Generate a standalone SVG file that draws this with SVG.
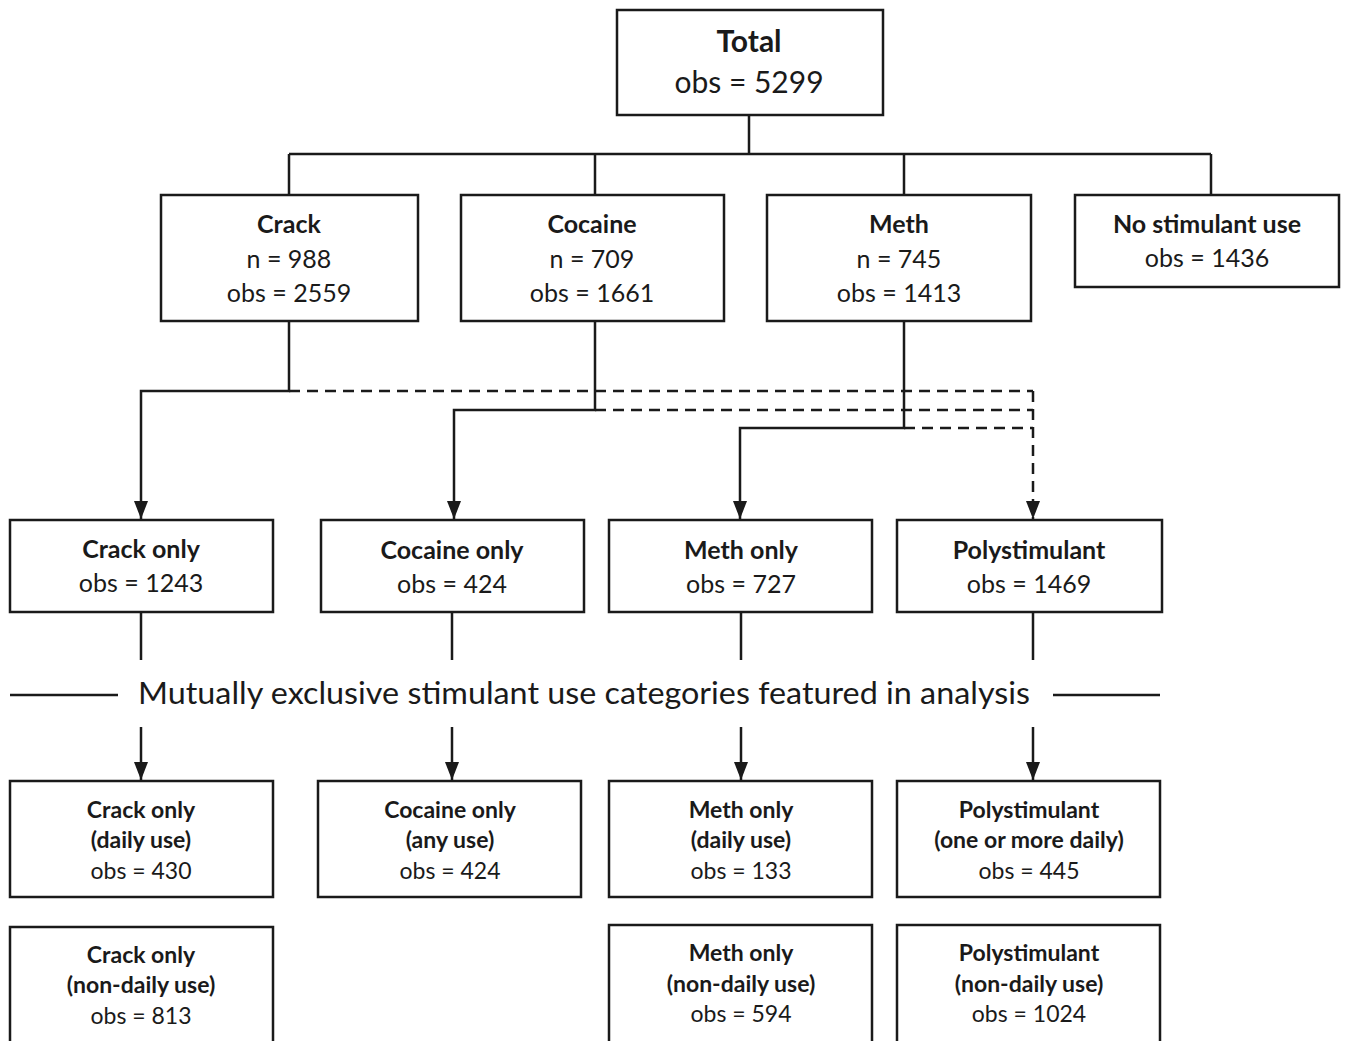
<svg xmlns="http://www.w3.org/2000/svg" width="1346" height="1041" viewBox="0 0 1346 1041">
<defs>
<style>
.box{fill:#fff;stroke:#1a1a1a;stroke-width:2.5}
.ln{fill:none;stroke:#1a1a1a;stroke-width:2.5}
.ds{fill:none;stroke:#1a1a1a;stroke-width:2.5;stroke-dasharray:11,7}
text{font-family:Lato,"Open Sans","Liberation Sans",sans-serif;fill:#1a1a1a;text-anchor:middle}
.t1{font-size:30px}
.t2{font-size:25px}
.t3{font-size:23px}
.b{font-weight:bold}
</style>
<marker id="ah" viewBox="0 0 18 14" refX="18" refY="7" markerWidth="18" markerHeight="14" markerUnits="userSpaceOnUse" orient="auto">
<path d="M0,0 L18,7 L0,14 Z" fill="#1a1a1a"/>
</marker>
</defs>
<rect width="1346" height="1041" fill="#fff"/>
<g id="connectors">
<path class="ln" d="M749,115 V154 M289,154 H1211 M289,154 V195 M595,154 V195 M904,154 V195 M1211,154 V195"/>
<path class="ln" d="M289,321 V391 H141 V519" marker-end="url(#ah)"/>
<path class="ln" d="M595,321 V410 H454 V519" marker-end="url(#ah)"/>
<path class="ln" d="M904,321 V428 H740 V519" marker-end="url(#ah)"/>
<path class="ds" d="M289,391 H1033 M595,410 H1033 M904,428 H1033"/>
<path class="ds" d="M1033,391 V519" marker-end="url(#ah)"/>
<path class="ln" d="M141,612 V660 M452,612 V660 M741,612 V660 M1033,612 V660"/>
<path class="ln" d="M10,695 H118 M1053,695 H1160"/>
<path class="ln" d="M141,727 V780" marker-end="url(#ah)"/>
<path class="ln" d="M452,727 V780" marker-end="url(#ah)"/>
<path class="ln" d="M741,727 V780" marker-end="url(#ah)"/>
<path class="ln" d="M1033,727 V780" marker-end="url(#ah)"/>
</g>
<g id="label"><text class="t1" x="584" y="704" textLength="892" lengthAdjust="spacingAndGlyphs">Mutually exclusive stimulant use categories featured in analysis</text></g>
<g id="total"><rect class="box" x="617" y="10" width="266" height="105"/><text class="t1 b" x="749" y="52">Total</text><text class="t1" x="749" y="93">obs = 5299</text></g>
<g id="crack"><rect class="box" x="161" y="195" width="257" height="126"/><text class="t2 b" x="289" y="233">Crack</text><text class="t2" x="289" y="268">n = 988</text><text class="t2" x="289" y="302">obs = 2559</text></g>
<g id="cocaine"><rect class="box" x="461" y="195" width="263" height="126"/><text class="t2 b" x="592" y="233">Cocaine</text><text class="t2" x="592" y="268">n = 709</text><text class="t2" x="592" y="302">obs = 1661</text></g>
<g id="meth"><rect class="box" x="767" y="195" width="264" height="126"/><text class="t2 b" x="899" y="233">Meth</text><text class="t2" x="899" y="268">n = 745</text><text class="t2" x="899" y="302">obs = 1413</text></g>
<g id="nostim"><rect class="box" x="1075" y="195" width="264" height="92"/><text class="t2 b" x="1207" y="233">No stimulant use</text><text class="t2" x="1207" y="267">obs = 1436</text></g>
<g id="crackonly"><rect class="box" x="10" y="520" width="263" height="92"/><text class="t2 b" x="141" y="558">Crack only</text><text class="t2" x="141" y="592">obs = 1243</text></g>
<g id="cocaineonly"><rect class="box" x="321" y="520" width="263" height="92"/><text class="t2 b" x="452" y="559">Cocaine only</text><text class="t2" x="452" y="593">obs = 424</text></g>
<g id="methonly"><rect class="box" x="609" y="520" width="263" height="92"/><text class="t2 b" x="741" y="559">Meth only</text><text class="t2" x="741" y="593">obs = 727</text></g>
<g id="poly"><rect class="box" x="897" y="520" width="265" height="92"/><text class="t2 b" x="1029" y="559">Polystimulant</text><text class="t2" x="1029" y="593">obs = 1469</text></g>
<g id="crackdaily"><rect class="box" x="10" y="781" width="263" height="116"/><text class="t3 b" x="141" y="818">Crack only</text><text class="t3 b" x="141" y="848">(daily use)</text><text class="t3" x="141" y="879">obs = 430</text></g>
<g id="cocaineany"><rect class="box" x="318" y="781" width="263" height="116"/><text class="t3 b" x="450" y="818">Cocaine only</text><text class="t3 b" x="450" y="848">(any use)</text><text class="t3" x="450" y="879">obs = 424</text></g>
<g id="methdaily"><rect class="box" x="609" y="781" width="263" height="116"/><text class="t3 b" x="741" y="818">Meth only</text><text class="t3 b" x="741" y="848">(daily use)</text><text class="t3" x="741" y="879">obs = 133</text></g>
<g id="polydaily"><rect class="box" x="897" y="781" width="263" height="116"/><text class="t3 b" x="1029" y="818">Polystimulant</text><text class="t3 b" x="1029" y="848">(one or more daily)</text><text class="t3" x="1029" y="879">obs = 445</text></g>
<g id="cracknon"><rect class="box" x="10" y="927" width="263" height="120"/><text class="t3 b" x="141" y="963">Crack only</text><text class="t3 b" x="141" y="993">(non-daily use)</text><text class="t3" x="141" y="1024">obs = 813</text></g>
<g id="methnon"><rect class="box" x="609" y="925" width="263" height="122"/><text class="t3 b" x="741" y="961">Meth only</text><text class="t3 b" x="741" y="992">(non-daily use)</text><text class="t3" x="741" y="1022">obs = 594</text></g>
<g id="polynon"><rect class="box" x="897" y="925" width="263" height="122"/><text class="t3 b" x="1029" y="961">Polystimulant</text><text class="t3 b" x="1029" y="992">(non-daily use)</text><text class="t3" x="1029" y="1022">obs = 1024</text></g>
</svg>
